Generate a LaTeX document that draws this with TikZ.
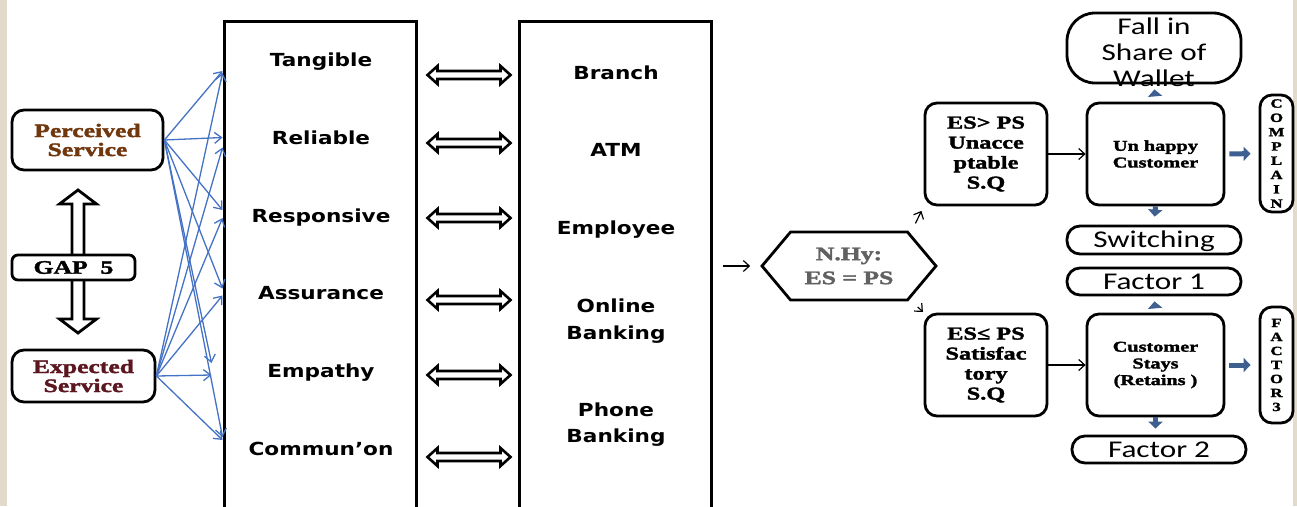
\documentclass[tikz,border=0pt]{standalone}
\usepackage{fontspec}
\usepackage{xcolor}
\usepackage{tikz}
\usetikzlibrary{calc,arrows.meta,shapes.symbols}

\newfontfamily\labfont[FakeStretch=1.2]{DejaVu Sans}
\newfontfamily\romfont[FakeStretch=1.35, BoldFeatures={FakeBold=2}]{Liberation Serif}
\newfontfamily\calfont[FakeStretch=1.3]{Carlito}
\definecolor{fanblue}{RGB}{68,114,196}
\definecolor{steel}{RGB}{62,96,145}
\definecolor{percol}{RGB}{112,54,12}
\definecolor{expcol}{RGB}{92,22,32}
\definecolor{paper}{RGB}{226,219,204}

\begin{document}
\begin{tikzpicture}[x=1pt, y=-1pt,
      box/.style={
            draw, line width=2.8pt, rounded corners=12pt,
            fill=white, align=center, inner sep=0pt
        },
      col/.style={
            draw, line width=3pt, minimum width=192pt,
            minimum height=520pt, inner sep=0pt
        },
      attr/.style={
            font=\labfont\bfseries\fontsize{18}{26.5}\selectfont,
            text height=13pt, text depth=0pt
        },
      attrtwo/.style={
            font=\labfont\bfseries\fontsize{18}{26.5}\selectfont,
            align=center
        },
      rom/.style 2 args={font=\romfont\bfseries\fontsize{#1}{#2}\selectfont},
      pill/.style={
            draw, line width=2.8pt, rounded corners=13pt,
            minimum width=174pt, inner sep=0pt,
            font=\calfont\fontsize{24}{26}\selectfont,
            text height=15.4pt, text depth=0pt
        },
      hollow/.style={line width=2.6pt, line join=miter, fill=white},
      fan/.style={fanblue, line width=1.3pt, -{Straight Barb[length=7pt,width=11pt]}},
      link/.style={line width=1.2pt, -{Straight Barb[length=6pt,width=11pt]}},
      bluearr/.style={steel, line width=5pt, -{Triangle[length=7pt,width=14pt]}}
      ]
    \fill[paper] (0,0) rectangle (7,506);
    \fill[paper] (1293,0) rectangle (1297,506);
    \useasboundingbox (0,0) rectangle (1297,506);

    \node[box, minimum width=151pt, minimum height=60pt, rom={19}{19}, text=percol] (PS) at (87.5,140) {Perceived\\Service};
    \node[box, minimum width=143pt, minimum height=52pt, rom={19}{19}, text=expcol] (ES) at (83.5,376) {Expected\\Service};
    \coordinate (GA) at (78,261.5);
    \draw[hollow, line width=2.8pt]
      ($(GA)+(0,-71.5)$) -- ++(18.5,14) -- ++(-12.5,0) -- ++(0,115) -- ++(12.5,0)
      -- ++(-18.5,14) -- ++(-18.5,-14) -- ++(12.5,0) -- ++(0,-115) -- ++(-12.5,0) -- cycle;
    \node[box, rounded corners=6pt, minimum width=123pt, minimum height=25pt, rom={19}{19}] (GAP) at (73.5,267.5) {GAP~~5};

    \node[col] (L) at (320,281) {};
    \node[col] (R) at (615.5,281) {};

    \node[attr] (T) at (321,60) {Tangible};
    \node[attr] (RL) at (321,137.5) {Reliable};
    \node[attr] (RS) at (321,216) {Responsive};
    \node[attr] (AS) at (321,292.5) {Assurance};
    \node[attr] (EM) at (321,371) {Empathy};
    \node[attr] (CM) at (321,449) {Commun’on};

    \node[attr] (BR) at (616,72.5) {Branch};
    \node[attr] (AT) at (616,150) {ATM};
    \node[attr] (EP) at (616,228) {Employee};
    \node[attrtwo] (OB) at (616,321) {Online\\Banking};
    \node[attrtwo] (PB) at (616,424.5) {Phone\\Banking};

    \foreach \y in {75,143,218,300,375,457}
      \draw[hollow] ($(L.east |- 0,\y)+(10,0)$) -- ++(10,-9) -- ++(0,5) -- ++(63,0) -- ++(0,-5)
        -- ++(10,9) -- ++(-10,9) -- ++(0,-5) -- ++(-63,0) -- ++(0,5) -- cycle;

    \foreach \t/\dx/\a/\b in {T/0/11/13, RL/0/0/10, RS/0/-6/2, AS/0/-4/3, EM/-11/-8/4, CM/0/-12/-9} {
      \draw[fan] (PS.east) -- ($(\t -| L.west)+(\dx,\a)$);
      \draw[fan] (ES.east) -- ($(\t -| L.west)+(\dx,\b)$);
    }

    \node[signal, signal to=west and east, signal pointer angle=100, draw, line width=2.8pt,
          minimum width=174pt, minimum height=68pt, inner sep=0pt, align=center,
          rom={19}{24}, text=black!62] (HY) at (849,266) {N.Hy:\\ES = PS};
    \draw[link, shorten <=10pt, shorten >=10pt] (R.east |- HY) -- (HY.west);

    \node[box, minimum width=122pt, minimum height=102pt, rom={18}{20}] (UA) at (986,154) {ES> PS\\Unacce\\ptable\\S.Q};
    \node[box, minimum width=122pt, minimum height=102pt, rom={18}{20}] (SA) at (986,365) {ES≤ PS\\Satisfac\\tory\\S.Q};
    \draw[link, shorten <=8pt, shorten >=5pt] ($(HY.north)+(63,0)$) -- (UA.south west);
    \draw[link, shorten <=8pt, shorten >=1pt] ($(HY.south)+(63,0)$) -- (SA.north west);

    \node[box, minimum width=137pt, minimum height=102pt, rom={15}{16.7}] (UH) at (1155.5,154) {Un happy\\Customer};
    \node[box, minimum width=137pt, minimum height=102pt, rom={15}{16.7}] (CS) at (1155.5,365) {Customer\\Stays\\(Retains )};
    \draw[link] (UA) -- (UH);
    \draw[link] (SA) -- (CS);

    \node[pill, minimum height=70pt, rounded corners=28pt] (W) at (1154,48) {};
    \node[font=\calfont\fontsize{24}{26}\selectfont, align=center] (WT) at ($(W.center)+(0,4)$) {Fall in\\Share of\\Wallet};
    \node[pill, minimum height=28pt] (SW) at (1154,240) {Switching};
    \node[pill, minimum height=27pt] (F1) at (1154,281.5) {Factor 1};
    \node[pill, minimum height=27pt] (F2) at (1159,449.5) {Factor 2};

    \node[box, minimum width=33pt, minimum height=117pt, rom={12.5}{14.3}] (CP) at (1276.5,153.5) {C\\O\\M\\P\\L\\A\\I\\N};
    \node[box, minimum width=33pt, minimum height=116pt, rom={12.5}{14}] (F3) at (1276.5,365) {F\\A\\C\\T\\O\\R\\3};

    \draw[bluearr, shorten <=6pt, shorten >=5pt] (UH.north) -- (W.south);
    \draw[bluearr, shorten >=8pt] (UH.south) -- (SW.north);
    \draw[bluearr, shorten <=4pt, shorten >=8pt] (UH.east) -- (CP.west);
    \draw[bluearr, shorten <=6pt, shorten >=5pt] (CS.north) -- (F1.south);
    \draw[bluearr, shorten >=6pt] (CS.south) -- (CS.south |- F2.north);
    \draw[bluearr, shorten <=4pt, shorten >=8pt] (CS.east) -- (F3.west);
  \end{tikzpicture}
\end{document}
